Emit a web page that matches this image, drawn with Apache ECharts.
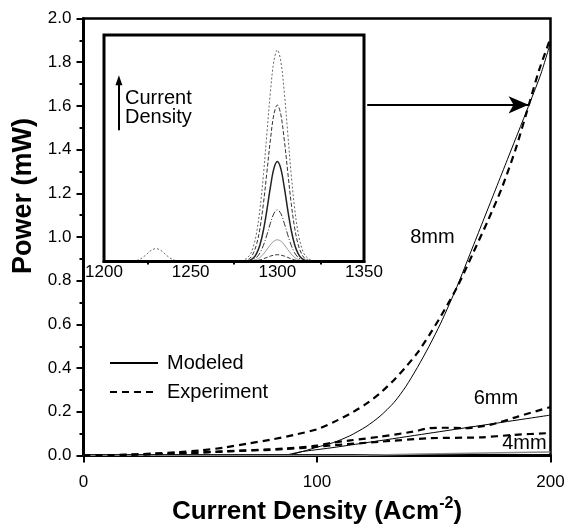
<!DOCTYPE html>
<html><head><meta charset="utf-8">
<script src="https://cdn.jsdelivr.net/npm/echarts@6/dist/echarts.min.js"></script>
<style>html,body{margin:0;padding:0;background:#fff}#c{width:574px;height:524px}</style>
</head><body><div id="c"></div>
<script>
const FONT = '"Liberation Sans", Arial, Helvetica, sans-serif';

// Main panel: current density (A/cm^2) vs power (mW)
const modeled8mm = [[0,0],[80,0],[88,0.003],[95,0.022],[100,0.038],[107,0.059],[114,0.09],[121,0.132],[127,0.18],[133,0.243],[138,0.315],[143,0.403],[148,0.5],[153,0.606],[160,0.774],[166,0.935],[171,1.07],[176,1.205],[181,1.34],[186,1.475],[191,1.61],[196,1.75],[200,1.89]];
const experiment8mm = [[0,0],[10,0.001],[20,0.004],[30,0.009],[40,0.015],[50,0.023],[60,0.036],[70,0.054],[80,0.072],[90,0.094],[100,0.12],[107,0.152],[114,0.19],[121,0.236],[127,0.285],[133,0.346],[138,0.405],[143,0.47],[148,0.55],[153,0.637],[160,0.77],[167,0.93],[173,1.07],[179,1.22],[185,1.4],[190.6,1.6],[195,1.76],[200,1.91]];
const modeled6mm = [[0,0],[85,0],[93,0.017],[106,0.035],[127,0.068],[150,0.105],[175,0.145],[200,0.185]];
const experiment6mm = [[0,0],[20,0.003],[40,0.009],[60,0.019],[86,0.032],[100,0.045],[106,0.058],[115,0.07],[127,0.086],[141,0.109],[148,0.125],[155,0.127],[163,0.125],[174,0.14],[186,0.178],[200,0.222]];
const modeled4mm = [[0,0],[110,0],[130,0.004],[160,0.009],[200,0.016]];
const experiment4mm = [[0,0],[20,0.003],[40,0.009],[60,0.018],[86,0.029],[100,0.04],[106,0.046],[127,0.063],[148,0.079],[170,0.083],[184,0.094],[200,0.103]];
const sizeLabels = [{text:'8mm', at:[149.4,1.0]},{text:'6mm', at:[176.6,0.259]},{text:'4mm', at:[188.8,0.057]}];
const arrowFrom = [121.5,1.605], arrowTo = [190.6,1.605];

// Inset: emission spectra (wavelength nm vs intensity a.u.)
const spectrum1 = [[1212,0],[1215,0.1],[1218,0.3],[1221,1.1],[1224,2.8],[1227,4.8],[1230,5.7],[1233,4.8],[1236,2.8],[1239,1.1],[1242,0.3],[1245,0.1],[1248,0],[1276,0],[1280,0.4],[1284,2.7],[1286,6.2],[1288,12.6],[1290,23.3],[1292,38.4],[1294,56.7],[1296,74.8],[1298,88.4],[1300,93.4],[1302,88.4],[1304,74.8],[1306,56.7],[1308,38.4],[1310,23.3],[1312,12.6],[1314,6.2],[1316,2.7],[1320,0.4],[1324,0]];
const spectrum2 = [[1280,0],[1284,1.3],[1286,3.4],[1288,7.5],[1290,14.8],[1292,25.7],[1294,39.6],[1296,53.7],[1298,64.9],[1300,69.1],[1302,64.9],[1304,53.7],[1306,39.6],[1308,25.7],[1310,14.8],[1312,7.5],[1314,3.4],[1316,1.3],[1320,0]];
const spectrum3 = [[1282,0],[1284,0.5],[1286,1.4],[1288,3.5],[1290,7.4],[1292,13.9],[1294,22.8],[1296,32.8],[1298,41.0],[1300,44.1],[1302,41.0],[1304,32.8],[1306,22.8],[1308,13.9],[1310,7.4],[1312,3.5],[1314,1.4],[1316,0.5],[1318,0]];
const spectrum4 = [[1282,0],[1284,0.3],[1286,0.8],[1288,1.8],[1290,3.8],[1292,7.2],[1294,11.8],[1296,16.9],[1298,21.2],[1300,22.8],[1302,21.2],[1304,16.9],[1306,11.8],[1308,7.2],[1310,3.8],[1312,1.8],[1314,0.8],[1316,0.3],[1318,0]];
const spectrum5 = [[1282,0],[1284,0.1],[1286,0.4],[1288,0.9],[1290,1.8],[1292,3.3],[1294,5.3],[1296,7.4],[1298,9.0],[1300,9.6],[1302,9.0],[1304,7.4],[1306,5.3],[1308,3.3],[1310,1.8],[1312,0.9],[1314,0.4],[1316,0.1],[1318,0]];
const spectrum6 = [[1282,0],[1284,0.1],[1286,0.2],[1288,0.4],[1290,0.7],[1292,1.2],[1294,1.8],[1296,2.4],[1298,2.8],[1300,3.0],[1302,2.8],[1304,2.4],[1306,1.8],[1308,1.2],[1310,0.7],[1312,0.4],[1314,0.2],[1316,0.1],[1318,0]];
const insetArrowFrom = [1208.6,58], insetArrowTo = [1208.6,80];

const chart = echarts.init(document.getElementById('c'), null, {renderer:'canvas'});

function mainLine(name, data, dashed, extra) {
  return Object.assign({
    name, type:'line', data, xAxisIndex:0, yAxisIndex:0, symbol:'none', smooth:0.25,
    itemStyle:{color:'#000'},
    lineStyle: dashed ? {color:'#000', width:2.2, type:[7,5]} : {color:'#000', width:1, type:'solid'},
    emphasis:{disabled:true}, silent:true, z:3
  }, extra || {});
}
function insetLine(data, ls, extra) {
  return Object.assign({
    type:'line', data, xAxisIndex:1, yAxisIndex:1, symbol:'none', smooth:0.35,
    lineStyle: ls, emphasis:{disabled:true}, silent:true, z:5
  }, extra || {});
}
function sizeMark(lbl) {
  return {coord: lbl.at, symbol:'rect', symbolSize:1, itemStyle:{color:'rgba(0,0,0,0)'},
    label:{show:true, position:'inside', formatter:lbl.text, color:'#000', fontSize:20, fontFamily:FONT}};
}

chart.setOption({
  animation:false,
  backgroundColor:'#fff',
  grid:[
    {left:83.5, top:18.5, width:467, height:437, show:true, borderColor:'#000', borderWidth:2.5,
     containLabel:false, outerBoundsMode:'none'},
    {left:104, top:35, width:260, height:226.5, show:true, borderColor:'#000', borderWidth:3, backgroundColor:'#fff', z:4,
     containLabel:false, outerBoundsMode:'none'}
  ],
  xAxis:[
    {type:'value', gridIndex:0, min:0, max:200, interval:100,
     name:'{a|Current Density (Acm}{s|-2}{a|)}', nameLocation:'middle', nameGap:33,
     nameTextStyle:{rich:{a:{fontSize:26, fontWeight:'bold', fontFamily:FONT, color:'#000'},
                         s:{fontSize:16, fontWeight:'bold', fontFamily:FONT, color:'#000', padding:[0,0,16,0]}}},
     axisLine:{show:true, lineStyle:{color:'#000', width:3}},
     axisTick:{show:true, length:7, lineStyle:{color:'#000', width:2}},
     axisLabel:{margin:18, fontSize:17, fontFamily:FONT, color:'#000'},
     splitLine:{show:false}},
    {type:'value', gridIndex:1, min:1200, max:1350, interval:50,
     axisLine:{show:true, lineStyle:{color:'#000', width:3}},
     axisTick:{show:false},
     minorTick:{show:true, splitNumber:2, length:3, lineStyle:{color:'#000', width:2}},
     axisLabel:{margin:2, fontSize:17, fontFamily:FONT, color:'#000', formatter:v => String(v)},
     splitLine:{show:false}, z:6}
  ],
  yAxis:[
    {type:'value', gridIndex:0, min:0, max:2.0, interval:0.2,
     name:'Power (mW)', nameLocation:'middle', nameGap:44, nameRotate:90,
     nameTextStyle:{fontSize:27, fontWeight:'bold', fontFamily:FONT, color:'#000', padding:[0,0,0,82]},
     axisLine:{show:true, lineStyle:{color:'#000', width:3}},
     axisTick:{show:true, length:7, lineStyle:{color:'#000', width:2}},
     minorTick:{show:true, splitNumber:2, length:4, lineStyle:{color:'#000', width:2}},
     axisLabel:{margin:12, fontSize:17, fontFamily:FONT, color:'#000', formatter:v => v.toFixed(1)},
     splitLine:{show:false}},
    {type:'value', gridIndex:1, min:0, max:100, show:false}
  ],
  legend:{
    data:['Modeled','Experiment'], orient:'vertical', left:104, top:348,
    itemWidth:48, itemHeight:14, itemGap:9,
    itemStyle:{opacity:0},
    textStyle:{fontSize:20, fontFamily:FONT, color:'#000', padding:[0,0,0,4]},
    selectedMode:false
  },
  series:[
    mainLine('Modeled', modeled8mm, false, {markPoint:{silent:true, data:[sizeMark(sizeLabels[0])]}}),
    mainLine('Experiment', experiment8mm, true, {markLine:{silent:true, symbol:['none','arrow'], symbolSize:[13,20],
      lineStyle:{color:'#000', width:2, type:'solid'}, label:{show:false}, emphasis:{disabled:true},
      data:[[{coord:arrowFrom},{coord:arrowTo}]]}}),
    mainLine('Modeled 6mm', modeled6mm, false, {markPoint:{silent:true, data:[sizeMark(sizeLabels[1])]}}),
    mainLine('Experiment 6mm', experiment6mm, true),
    mainLine('Modeled 4mm', modeled4mm, false, {lineStyle:{color:'#888', width:1.5}}),
    mainLine('Experiment 4mm', experiment4mm, true, {markPoint:{silent:true, data:[sizeMark(sizeLabels[2])]}}),
    insetLine(spectrum1, {color:'#666', width:1, type:[2,2]}, {markLine:{silent:true, symbol:['none','triangle'], symbolSize:[7,10],
      lineStyle:{color:'#000', width:2, type:'solid'}, label:{show:false}, emphasis:{disabled:true},
      data:[[{coord:insetArrowFrom},{coord:insetArrowTo}]]}}),
    insetLine(spectrum2, {color:'#333', width:1, type:[4,2]}),
    insetLine(spectrum3, {color:'#222', width:1.5, type:'solid'}),
    insetLine(spectrum4, {color:'#333', width:1, type:[6,2,1,2]}),
    insetLine(spectrum5, {color:'#999', width:1, type:'solid'}),
    insetLine(spectrum6, {color:'#333', width:1, type:[4,2]})
  ],
  graphic:[
    {type:'text', left:125, top:88, z:10, silent:true,
     style:{text:'Current\nDensity', font:'20px ' + FONT, fill:'#000', lineHeight:19}}
  ]
});
</script></body></html>
